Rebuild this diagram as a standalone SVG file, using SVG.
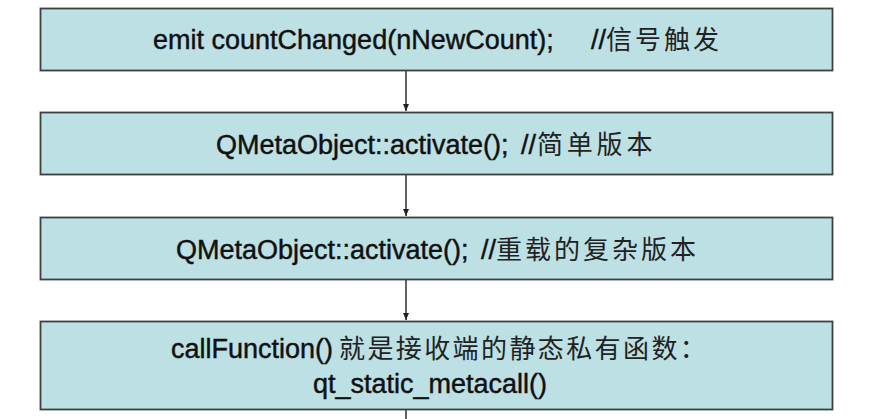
<svg xmlns="http://www.w3.org/2000/svg" width="887" height="419" viewBox="0 0 887 419">
<defs>
<style>
.box{fill:#bce0e4;stroke:#3c3f40;stroke-width:1.8}
.t{font-family:"Liberation Sans","Noto Sans CJK SC",sans-serif;font-size:27px;fill:#111;stroke:#111;stroke-width:0.45}
.cjk{font-family:"Noto Sans CJK SC",sans-serif;font-size:26px;letter-spacing:3px;stroke-width:0;fill:#222}
.edge{stroke:#222;stroke-width:1.4;fill:none}
</style>
<marker id="ah" markerWidth="8" markerHeight="8" refX="7" refY="4" orient="auto" markerUnits="userSpaceOnUse">
<path d="M0,1 L7,4 L0,7 Z" fill="#222"/>
</marker>
</defs>
<rect width="887" height="419" fill="#ffffff"/>
<g id="connectors">
<line class="edge" x1="406" y1="70" x2="406" y2="111" marker-end="url(#ah)"/>
<line class="edge" x1="406" y1="174" x2="406" y2="216" marker-end="url(#ah)"/>
<line class="edge" x1="406" y1="279" x2="406" y2="320" marker-end="url(#ah)"/>
<line class="edge" x1="406" y1="410" x2="406" y2="419"/>
</g>
<g id="n1">
<rect class="box" x="40.5" y="8.5" width="792" height="62"/>
<text class="t" y="49"><tspan x="153">emit countChanged(nNewCount);</tspan><tspan x="591">//</tspan><tspan class="cjk" x="606">信号触发</tspan></text>
</g>
<g id="n2">
<rect class="box" x="40.5" y="112.5" width="792" height="62"/>
<text class="t" y="154"><tspan x="216">QMetaObject::activate();</tspan><tspan x="521">//</tspan><tspan class="cjk" x="537" style="letter-spacing:3.8px">简单版本</tspan></text>
</g>
<g id="n3">
<rect class="box" x="40.5" y="217.5" width="792" height="62"/>
<text class="t" y="259"><tspan x="176">QMetaObject::activate();</tspan><tspan x="481">//</tspan><tspan class="cjk" x="496">重载的复杂版本</tspan></text>
</g>
<g id="n4">
<rect class="box" x="40.5" y="321.5" width="792" height="88"/>
<text class="t" y="358"><tspan x="171">callFunction()</tspan><tspan class="cjk" x="339" style="letter-spacing:2.4px">就是接收端的静态私有函数：</tspan></text>
<text class="t" x="313" y="393">qt_static_metacall()</text>
</g>
</svg>
